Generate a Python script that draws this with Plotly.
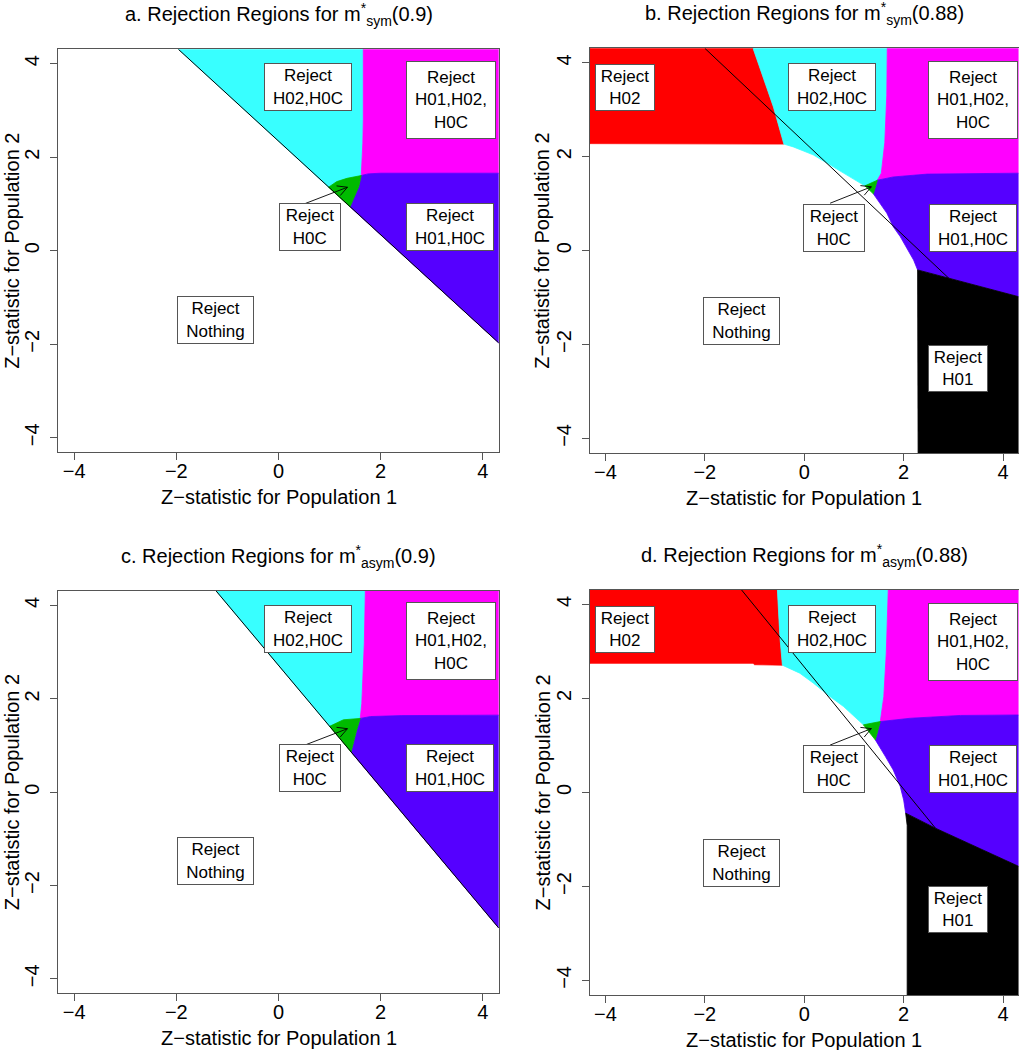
import math
import plotly.graph_objects as go

# ---------------- data ----------------
TICKS = [-4, -2, 0, 2, 4]
AX_RANGE = [-4.31, 4.31]

# panel a : m*_sym(0.9)
a_cyan = [(-1.96, 4.31), (1.66, 4.31), (1.66, 2.8), (1.65, 2.3), (1.63, 1.8), (1.62, 1.61),
          (1.34, 1.55), (1.14, 1.48), (0.98, 1.36)]
a_magenta = [(1.66, 4.31), (4.31, 4.31), (4.31, 1.66), (2.0, 1.66), (1.75, 1.645), (1.62, 1.61),
             (1.63, 1.8), (1.65, 2.3), (1.66, 2.8)]
a_blue = [(1.62, 1.61), (1.75, 1.645), (2.0, 1.66), (4.31, 1.66), (4.31, -1.97), (1.40, 0.94),
          (1.48, 1.16), (1.57, 1.37)]
a_green = [(0.98, 1.36), (1.14, 1.48), (1.34, 1.55), (1.62, 1.61), (1.57, 1.37), (1.48, 1.16),
           (1.40, 0.94)]
a_line = [(-1.96, 4.31), (4.31, -1.97)]

# panel b : m*_sym(0.88)
b_red = [(-4.31, 4.31), (-1.03, 4.31), (-0.62, 3.06), (-0.41, 2.27), (-4.31, 2.28)]
b_cyan = [(-1.03, 4.31), (1.67, 4.31), (1.66, 3.3), (1.62, 2.3), (1.55, 1.65), (1.47, 1.50),
          (1.22, 1.38), (0.79, 1.65), (0.18, 2.04), (-0.22, 2.21), (-0.41, 2.27), (-0.62, 3.06)]
b_magenta = [(1.67, 4.31), (4.31, 4.31), (4.31, 1.65), (2.47, 1.63), (1.79, 1.57), (1.47, 1.50),
             (1.55, 1.65), (1.62, 2.3), (1.66, 3.3)]
b_blue = [(1.47, 1.50), (1.79, 1.57), (2.47, 1.63), (4.31, 1.65), (4.31, -0.98), (2.91, -0.59),
          (2.28, -0.41), (2.20, -0.20), (2.06, 0.05), (1.93, 0.30), (1.79, 0.51), (1.66, 0.80),
          (1.39, 1.21)]
b_green = [(1.22, 1.38), (1.47, 1.50), (1.39, 1.21)]
b_black = [(2.28, -0.41), (2.91, -0.59), (4.31, -0.98), (4.31, -4.31), (2.29, -4.31)]
b_line = [(-2.0, 4.31), (2.91, -0.59)]

# panel c : m*_asym(0.9)
c_cyan = [(-1.22, 4.31), (1.70, 4.31), (1.68, 3.2), (1.66, 2.6), (1.63, 1.9), (1.60, 1.58),
          (1.27, 1.55), (1.0, 1.41)]
c_magenta = [(1.70, 4.31), (4.31, 4.31), (4.31, 1.65), (2.4, 1.64), (1.8, 1.62), (1.60, 1.58),
             (1.63, 1.9), (1.66, 2.6), (1.68, 3.2)]
c_blue = [(1.60, 1.58), (1.8, 1.62), (2.4, 1.64), (4.31, 1.65), (4.31, -2.91), (1.42, 0.86),
          (1.53, 1.33)]
c_green = [(1.0, 1.41), (1.27, 1.55), (1.60, 1.58), (1.53, 1.33), (1.42, 0.86)]
c_line = [(-1.22, 4.31), (4.31, -2.91)]

# panel d : m*_asym(0.88)
d_red = [(-4.31, 4.31), (-0.54, 4.31), (-0.49, 3.32), (-0.44, 2.71), (-1.0, 2.72), (-1.03, 2.75),
         (-4.31, 2.75)]
d_cyan = [(-0.54, 4.31), (1.69, 4.31), (1.65, 2.97), (1.60, 2.04), (1.54, 1.51), (1.19, 1.44),
          (0.79, 1.83), (0.52, 2.04), (0.18, 2.33), (-0.09, 2.54), (-0.44, 2.71), (-0.49, 3.32)]
d_magenta = [(1.69, 4.31), (4.31, 4.31), (4.31, 1.65), (3.14, 1.64), (2.13, 1.58), (1.53, 1.51),
             (1.60, 2.04), (1.65, 2.97)]
d_blue = [(1.53, 1.51), (2.13, 1.58), (3.14, 1.64), (4.31, 1.65), (4.31, -1.57), (2.64, -0.76),
          (2.04, -0.44), (2.00, -0.16), (1.93, 0.13), (1.79, 0.48), (1.63, 0.77), (1.43, 1.12)]
d_green = [(1.19, 1.44), (1.53, 1.51), (1.43, 1.12)]
d_black = [(2.04, -0.44), (2.64, -0.76), (4.31, -1.57), (4.31, -4.31), (2.07, -4.31), (2.07, -0.7)]
d_line = [(-1.26, 4.31), (2.64, -0.76)]

# label boxes: (text, x, y)
labels_ac = [("Reject<br>H02,H0C", 0.57, 3.50), ("Reject<br>H01,H02,<br>H0C", 3.37, 3.23),
             ("Reject<br>H0C", 0.61, 0.51), ("Reject<br>H01,H0C", 3.36, 0.51),
             ("Reject<br>Nothing", -1.24, -1.47)]
labels_bd = [("Reject<br>H02", -3.60, 3.48), ("Reject<br>H02,H0C", 0.55, 3.48),
             ("Reject<br>H01,H02,<br>H0C", 3.40, 3.20), ("Reject<br>H0C", 0.60, 0.49),
             ("Reject<br>H01,H0C", 3.40, 0.49), ("Reject<br>Nothing", -1.26, -1.50),
             ("Reject<br>H01", 3.10, -2.50)]
arrow_tail = (0.52, 1.01)
arrow_head = (1.35, 1.36)

titles = ["a. Rejection Regions for m<sup>*</sup><sub>sym</sub>(0.9)",
          "b. Rejection Regions for m<sup>*</sup><sub>sym</sub>(0.88)",
          "c. Rejection Regions for m<sup>*</sup><sub>asym</sub>(0.9)",
          "d. Rejection Regions for m<sup>*</sup><sub>asym</sub>(0.88)"]
x_title = "Z\u2212statistic for Population 1"
y_title = "Z\u2212statistic for Population 2"

# ---------------- styling ----------------
W, H = 1019, 1050
FONT = "Liberation Sans, Arial, Helvetica, sans-serif"
COL = {"cyan": "#38FFFF", "magenta": "#FF00FF", "blue": "#5500FF", "green": "#00BB00",
       "red": "#FF0000", "black": "#000000"}
AXC = "#555555"

# pixel boxes of the four plot areas: (left, right, top, bottom)
PIX = {1: (58.3, 498.7, 49.3, 452.3), 2: (590.0, 1018.5, 48.3, 453.0),
       3: (58.3, 498.7, 591.0, 993.3), 4: (590.0, 1018.5, 590.0, 995.0)}

fig = go.Figure()

def axname(n):
    return ("x" if n == 1 else f"x{n}"), ("y" if n == 1 else f"y{n}")

def poly(n, pts, color):
    xa, ya = axname(n)
    xs = [p[0] for p in pts] + [pts[0][0]]
    ys = [p[1] for p in pts] + [pts[0][1]]
    fig.add_trace(go.Scatter(x=xs, y=ys, mode="lines", fill="toself", fillcolor=color,
                             line=dict(color=color, width=0.8), hoverinfo="skip",
                             showlegend=False, xaxis=xa, yaxis=ya))

def seg(n, pts, width=1.0):
    xa, ya = axname(n)
    fig.add_trace(go.Scatter(x=[p[0] for p in pts], y=[p[1] for p in pts], mode="lines",
                             line=dict(color="black", width=width), hoverinfo="skip",
                             showlegend=False, xaxis=xa, yaxis=ya))

def arrow(n):
    l, r, t, b = PIX[n]
    sx = (r - l) / (AX_RANGE[1] - AX_RANGE[0])
    sy = (b - t) / (AX_RANGE[1] - AX_RANGE[0])
    tx, ty = arrow_tail
    hx, hy = arrow_head
    dx, dy = (hx - tx) * sx, (hy - ty) * sy
    L = math.hypot(dx, dy)
    ux, uy = dx / L, dy / L
    hl, ang = 11.0, math.radians(28)
    pts = []
    for s in (1, -1):
        ca, sa = math.cos(s * ang), math.sin(s * ang)
        bx = -(ux * ca - uy * sa) * hl
        by = -(ux * sa + uy * ca) * hl
        pts.append((hx + bx / sx, hy + by / sy))
    seg(n, [arrow_tail, arrow_head], 0.9)
    seg(n, [pts[0], arrow_head, pts[1]], 0.9)

panels = {
    1: [(a_cyan, "cyan"), (a_magenta, "magenta"), (a_blue, "blue"), (a_green, "green")],
    2: [(b_red, "red"), (b_cyan, "cyan"), (b_magenta, "magenta"), (b_blue, "blue"),
        (b_green, "green"), (b_black, "black")],
    3: [(c_cyan, "cyan"), (c_magenta, "magenta"), (c_blue, "blue"), (c_green, "green")],
    4: [(d_red, "red"), (d_cyan, "cyan"), (d_magenta, "magenta"), (d_blue, "blue"),
        (d_green, "green"), (d_black, "black")],
}
lines = {1: a_line, 2: b_line, 3: c_line, 4: d_line}

for n in (1, 2, 3, 4):
    for pts, c in panels[n]:
        poly(n, pts, COL[c])
    seg(n, lines[n], 1.0)
    arrow(n)

layout = dict(template="none", width=W, height=H, margin=dict(l=0, r=0, t=0, b=0, autoexpand=False),
              paper_bgcolor="white", plot_bgcolor="white",
              font=dict(family=FONT, size=20, color="black"), showlegend=False)

for n in (1, 2, 3, 4):
    l, r, t, b = PIX[n]
    xk = "xaxis" if n == 1 else f"xaxis{n}"
    yk = "yaxis" if n == 1 else f"yaxis{n}"
    ax = dict(range=AX_RANGE, tickvals=TICKS, ticks="outside", ticklen=7, tickcolor=AXC,
              tickwidth=1, showline=True, mirror=True, linecolor=AXC, linewidth=1,
              showgrid=False, zeroline=False, automargin=False,
              tickfont=dict(size=20, family=FONT, color="black"))
    xa, ya = axname(n)
    layout[xk] = dict(ax, domain=[l / W, r / W], anchor=ya, ticklabelstandoff=-6)
    layout[yk] = dict(ax, domain=[1 - b / H, 1 - t / H], anchor=xa, tickangle=-90,
                      ticklabelstandoff=3)

fig.update_layout(**layout)

# box sizes in pixels for each label text
BOX = {"Reject<br>H02,H0C": (88, 48), "Reject<br>H01,H02,<br>H0C": (90, 78),
       "Reject<br>H0C": (62, 48), "Reject<br>H01,H0C": (88, 48), "Reject<br>Nothing": (77, 48),
       "Reject<br>H02": (60, 47), "Reject<br>H01": (60, 47)}

annotations = []
for n, labs in ((1, labels_ac), (2, labels_bd), (3, labels_ac), (4, labels_bd)):
    xr, yr = axname(n)
    for txt, x, y in labs:
        bw, bh = BOX[txt]
        annotations.append(dict(text=txt, x=x, y=y, xref=xr, yref=yr, showarrow=False,
                                bgcolor="white", bordercolor=AXC, borderwidth=1, borderpad=0,
                                width=bw - 2, height=bh - 2, align="center",
                                font=dict(size=17, family=FONT, color="black")))
    l, r, t, b = PIX[n]
    cx = (l + r) / 2 if n in (1, 3) else 804.3
    # panel title
    annotations.append(dict(text=titles[n - 1], x=cx / W, y=1 - (t - 35) / H,
                            xref="paper", yref="paper", showarrow=False,
                            xanchor="center", yanchor="middle",
                            font=dict(size=20, family=FONT, color="black")))
    # x-axis title
    annotations.append(dict(text=x_title, x=cx / W, y=1 - (b + 45) / H,
                            xref="paper", yref="paper", showarrow=False,
                            xanchor="center", yanchor="middle",
                            font=dict(size=20, family=FONT, color="black")))
    # y-axis title
    yx = 12 if n in (1, 3) else 542
    annotations.append(dict(text=y_title, x=yx / W, y=1 - (t + b) / 2 / H,
                            xref="paper", yref="paper", showarrow=False, textangle=-90,
                            xanchor="center", yanchor="middle",
                            font=dict(size=20, family=FONT, color="black")))
fig.update_layout(annotations=annotations)

fig.write_html("out.html", config={"displayModeBar": False},
               post_script="document.body.style.margin='0px';document.body.style.overflow='hidden';")
